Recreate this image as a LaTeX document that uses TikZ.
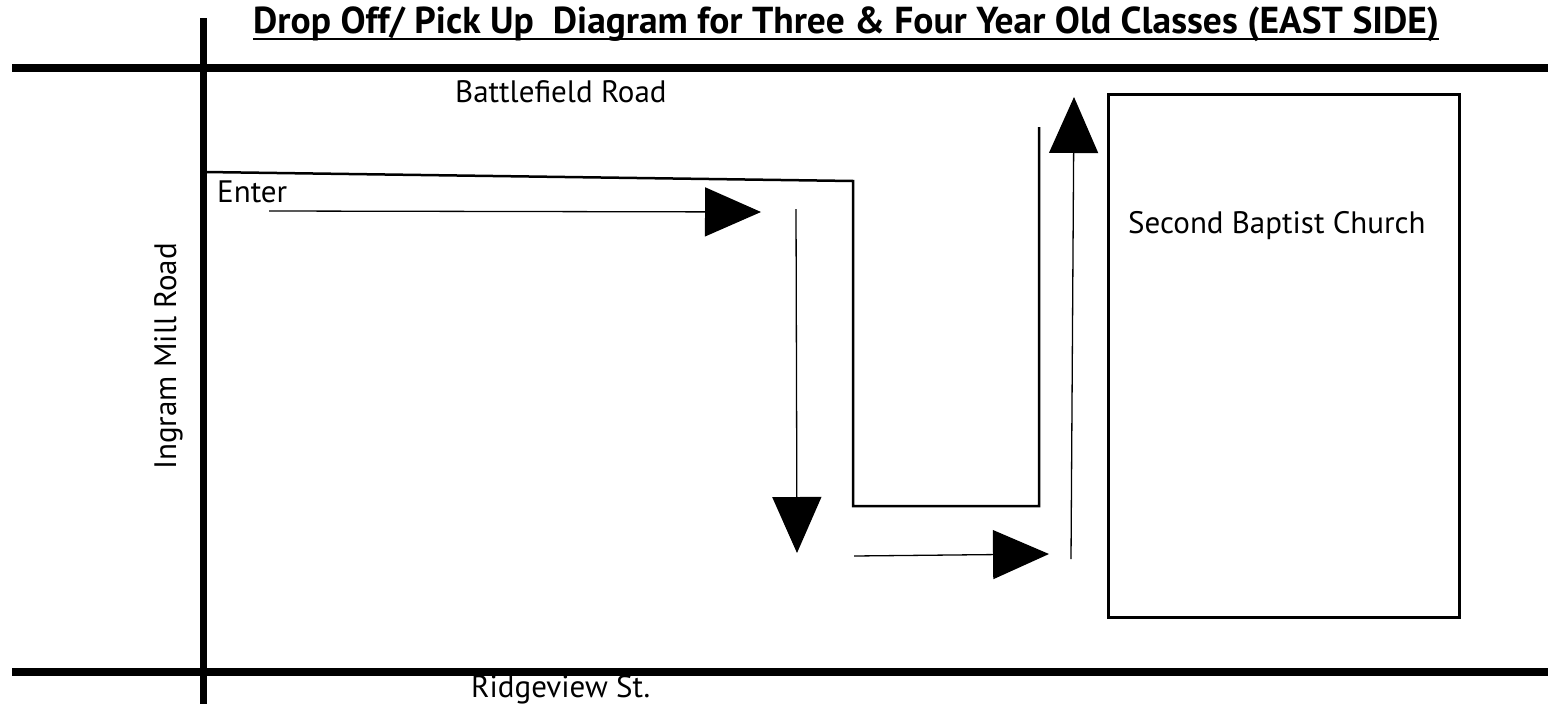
\documentclass[tikz,border=0pt]{standalone}
\usepackage{fontspec}
\setmainfont{PT Sans}
\usetikzlibrary{arrows.meta}
\begin{document}
\begin{tikzpicture}[x=1pt,y=-1pt,
  road/.style={line width=8pt},
  lane/.style={line width=2.5pt},
  flow/.style={line width=1.3pt,-{Triangle[length=56pt,width=49pt]}},
  lbl/.style={inner sep=0pt,font=\fontsize{31}{34}\selectfont}]
\useasboundingbox (0,0) rectangle (1554,704);
% title
\node[inner sep=0pt, anchor=base west, font=\bfseries\fontsize{37.5}{40}\selectfont] (title) at (253,33)
  {Drop Off/ Pick Up\ \ Diagram for Three \& Four Year Old Classes (EAST SIDE)};
\draw[line width=2pt] ([yshift=-6pt]title.base west) -- ([yshift=-6pt]title.base east);
% roads
\coordinate (tl) at (12,68);
\coordinate (tr) at (1548,68);
\coordinate (bl) at (12,672);
\coordinate (br) at (1548,672);
\coordinate (vt) at (203,18);
\coordinate (vb) at (203,704);
\draw[road] (tl) -- (tr);
\draw[road] (bl) -- (br);
\draw[line width=7pt] (vt) -- (vb);
% road names
\node[lbl, anchor=base west] (battle) at (455,102) {Battlefield Road};
\node[lbl, anchor=base west] (ridge) at (471,697) {Ridgeview St.};
\node[lbl, anchor=base west, rotate=90] (ingram) at (176,470) {Ingram Mill Road};
\node[lbl, anchor=base west] (enter) at (217,202) {Enter};
% church
\node[draw, line width=2.5pt, minimum width=351pt, minimum height=523pt, anchor=north west, inner sep=0pt] (church) at (1107,93) {};
\node[lbl, anchor=base west] (churchname) at (1128,233) {Second Baptist Church};
% lane
\coordinate (u1) at (205,172);
\coordinate (u2) at (853,181);
\coordinate (u3) at (853,506);
\coordinate (u4) at (1039,506);
\coordinate (u5) at (1039,127);
\draw[lane] (u1) -- (u2) -- (u3) -- (u4) -- (u5);
% flow arrows
\coordinate (a1s) at (269,211);
\coordinate (a1e) at (761,212);
\coordinate (a2s) at (796,209);
\coordinate (a2e) at (797,553);
\coordinate (a3s) at (854,556);
\coordinate (a3e) at (1049,554);
\coordinate (a4s) at (1071,559);
\coordinate (a4e) at (1074,97);
\draw[flow] (a1s) -- (a1e);
\draw[flow] (a2s) -- (a2e);
\draw[flow] (a3s) -- (a3e);
\draw[flow] (a4s) -- (a4e);
\end{tikzpicture}
\end{document}
